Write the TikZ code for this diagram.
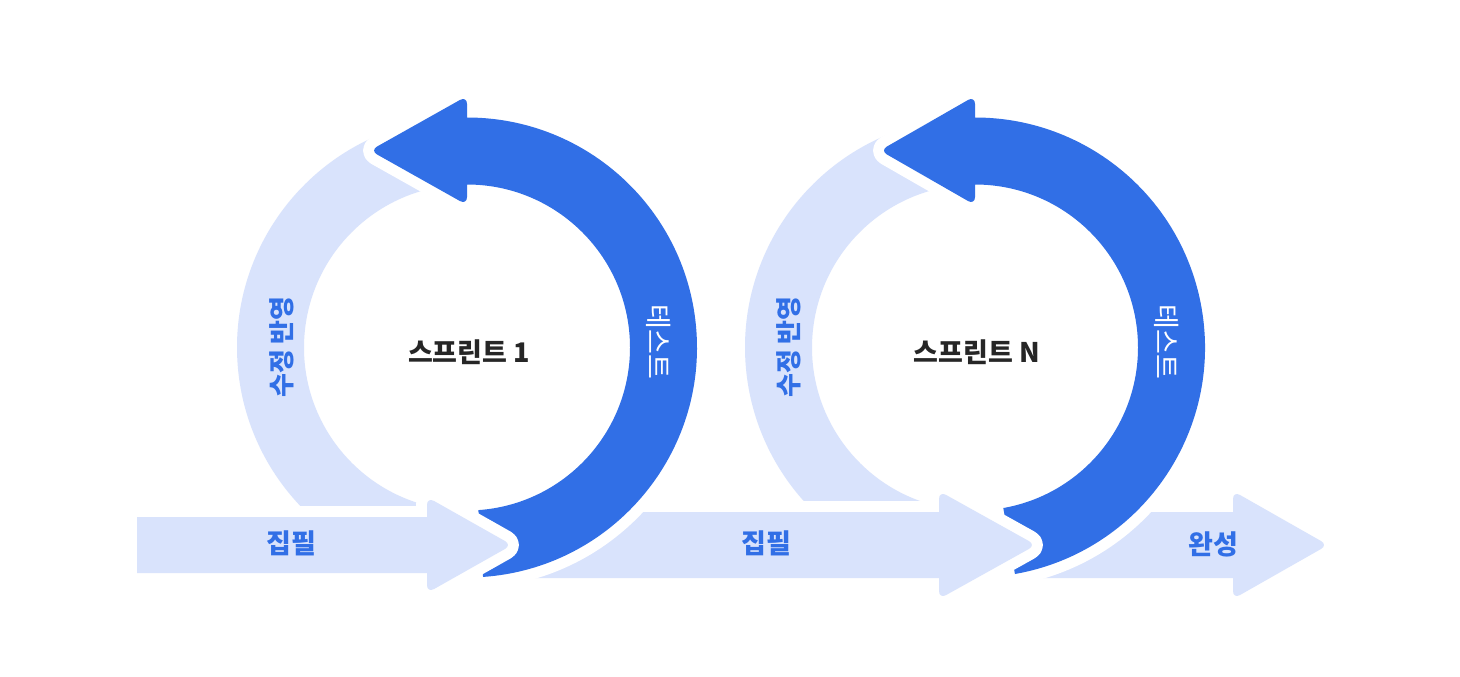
\documentclass[tikz,border=0pt]{standalone}
\usepackage{fontspec}
\setmainfont{Noto Sans CJK KR}
\definecolor{darkb}{RGB}{49,111,230}
\definecolor{lightb}{RGB}{217,227,252}
\definecolor{txtdark}{RGB}{38,38,38}
\begin{document}
\begin{tikzpicture}[x=1pt,y=-1pt,
  litearc/.style={fill=lightb},
  darkarc/.style={fill=darkb, preaction={draw=white, line width=22pt, line join=round}},
  litearrow/.style={fill=lightb, preaction={draw=white, line width=22pt, line join=round}},
  sprint/.style={font=\fontsize{27}{27}\selectfont\bfseries, text=txtdark},
  arclbl/.style={font=\fontsize{26}{26}\selectfont\bfseries, text=darkb},
  testlbl/.style={font=\fontsize{27}{27}\selectfont, text=white},
  arrlbl/.style={font=\fontsize{27}{27}\selectfont\bfseries, text=darkb}]
\fill[white] (0,0) rectangle (1460,677);
\useasboundingbox (0,0) rectangle (1460,677);

% light arcs
\begin{scope}[shift={(467,347.5)}]
  \clip (-300,-300) rectangle (300,157.5);
  \fill[litearc] (-95:230) arc[start angle=-95, end angle=-265, radius=230]
     -- (-265:163) arc[start angle=-265, end angle=-95, radius=163] -- cycle;
\end{scope}
\begin{scope}[shift={(975,347.5)}]
  \clip (-300,-300) rectangle (300,155.5);
  \fill[litearc] (-95:230) arc[start angle=-95, end angle=-265, radius=230]
     -- (-265:163) arc[start angle=-265, end angle=-95, radius=163] -- cycle;
\end{scope}

% finish arrow
\path[litearrow] (1020,512) -- (1233,512) [rounded corners=8] -- (1233,491) -- (1328,545) -- (1233,599) [sharp corners] -- (1233,578) -- (1020,578) -- cycle;

% dark arc 2
\begin{scope}[shift={(975,347.5)}]
  \path[darkarc] (80:163) -- (80:230) arc[start angle=80, end angle=-90, radius=230]
     [rounded corners=8] -- (0,-251.5) -- (-95,-197) -- (0,-142.5) [sharp corners] -- (0,-163)
     arc[start angle=-90, end angle=80, radius=163] -- cycle;
\end{scope}

% middle writing arrow
\path[litearrow] (490,512) -- (939,512) [rounded corners=8] -- (939,491) -- (1036,545) -- (939,599) [sharp corners] -- (939,578) -- (490,578) -- cycle;

% dark arc 1
\begin{scope}[shift={(467,347.5)}]
  \path[darkarc] (86:163) -- (86:230) arc[start angle=86, end angle=-90, radius=230]
     [rounded corners=8] -- (0,-251.5) -- (-97,-197) -- (0,-142.5) [sharp corners] -- (0,-163)
     arc[start angle=-90, end angle=86, radius=163] -- cycle;
\end{scope}

% first writing arrow
\path[litearrow] (137,517) -- (427,517) [rounded corners=8] -- (427,497) -- (512,545) -- (427,593) [sharp corners] -- (427,573) -- (137,573) -- cycle;

% texts
\node[sprint] (s1) at (469,352) {스프린트 1};
\node[sprint] (sn) at (977,352) {스프린트 N};
\node[arclbl, rotate=90] (r1) at (282,347) {수정 반영};
\node[arclbl, rotate=90] (r2) at (789,347) {수정 반영};
\node[testlbl, rotate=-90] (t1) at (659,342) {테스트};
\node[testlbl, rotate=-90] (t2) at (1167,342) {테스트};
\node[arrlbl] (w1) at (291,543) {집필};
\node[arrlbl] (w2) at (766,543) {집필};
\node[arrlbl] (done) at (1213,544) {완성};
\end{tikzpicture}
\end{document}
